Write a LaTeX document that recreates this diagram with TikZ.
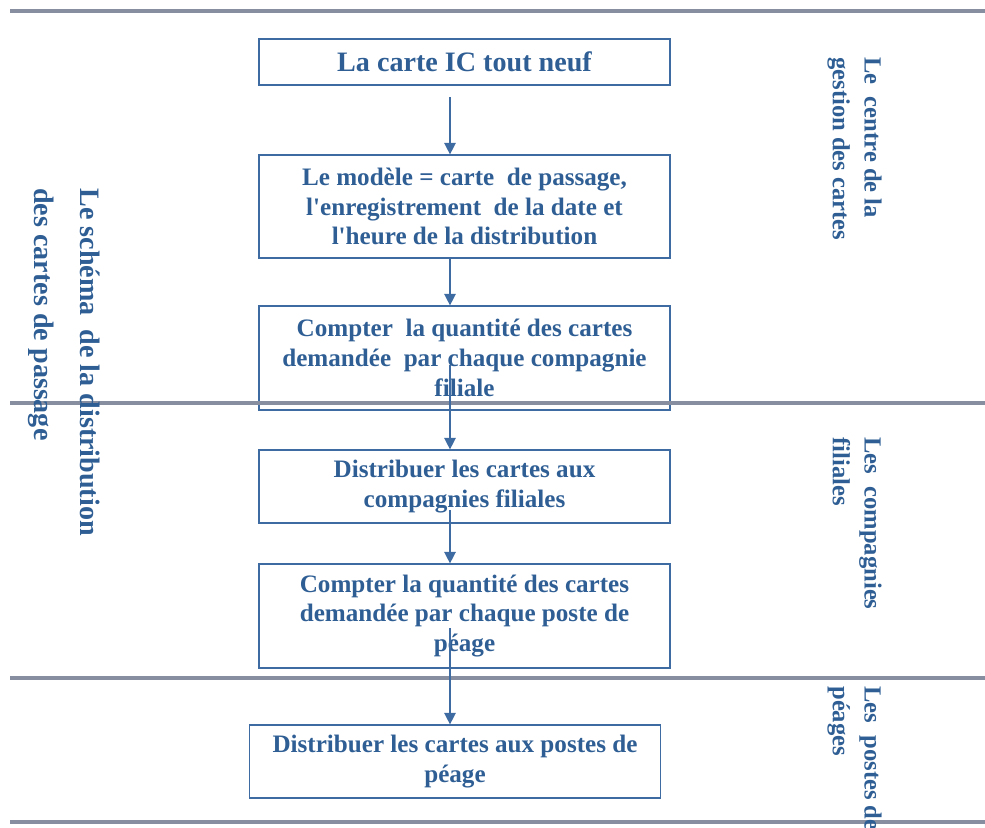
\documentclass[tikz,border=0pt]{standalone}
\usepackage{fontspec}
\setmainfont{Liberation Serif}
\usetikzlibrary{arrows.meta,positioning}
\definecolor{txtblue}{RGB}{46,94,148}
\definecolor{boxblue}{RGB}{62,108,162}
\definecolor{sepgrey}{RGB}{135,142,160}

\tikzset{
  stepbox/.style={draw=boxblue, line width=0.7pt, text=txtblue, align=center,
    font=\fontsize{14.3}{17}\selectfont\bfseries, minimum width=8.22cm, inner sep=0pt},
  sepline/.style={draw=sepgrey, line width=2.1pt},
  flow/.style={draw=boxblue, line width=0.8pt, -{Triangle[length=6.5pt,width=6.5pt]}},
  lane/.style={text=txtblue, font=\fontsize{14}{18}\selectfont\bfseries,
    rotate=-90, align=left, anchor=north west, inner sep=0pt}
}

\begin{document}
\begin{tikzpicture}[x=0.02cm, y=-0.02cm]
  \useasboundingbox (0,0) rectangle (985,828);

  % boxes
  \node[stepbox, minimum height=0.92cm, font=\fontsize{16}{19}\selectfont\bfseries] (ic) at (464.5,62) {La carte IC tout neuf};
  \node[stepbox, minimum height=2.06cm] (modele) at (464.5,206.5) {Le mod\`ele = carte~ de passage,\\l\textquotesingle enregistrement~ de la date et\\l\textquotesingle heure de la distribution};
  \node[stepbox, minimum height=2.08cm] (cnt1) at (464.5,358) {Compter~ la quantit\'e des cartes\\demand\'ee~ par chaque compagnie\\filiale};
  \node[stepbox, minimum height=1.46cm] (dist1) at (464.5,486.5) {Distribuer les cartes aux\\compagnies filiales};
  \node[stepbox, minimum height=2.08cm] (cnt2) at (464.5,616) {Compter la quantit\'e des cartes\\demand\'ee par chaque poste de\\p\'eage};
  \node[stepbox, minimum height=1.46cm] (dist2) at (455,761.5) {Distribuer les cartes aux postes de\\p\'eage};

  % lanes
  \draw[sepline] (10,11) -- (985,11);
  \draw[sepline] (10,403) -- (985,403);
  \draw[sepline] (10,678) -- (985,678);
  \draw[sepline] (10,822) -- (985,822);

  \node[lane] (centre) at (882,57) {Le~~centre de la\\gestion des cartes};
  \node[lane] (filiales) at (882,437) {Les~~compagnies\\filiales};
  \node[lane] (peages) at (882,686) {Les~~postes de\\p\'eages};
  \node[lane, font=\fontsize{16}{26}\selectfont\bfseries] (schema) at (100,188) {Le sch\'ema~ de la distribution\\des cartes de passage};

  % arrows
  \coordinate (s1) at (450,97);
  \coordinate (s2) at (450,258);
  \coordinate (s3) at (450,365);
  \coordinate (s4) at (450,510);
  \coordinate (s5) at (450,628);
  \draw[flow] (s1) -- (s1 |- modele.north);
  \draw[flow] (s2) -- (s2 |- cnt1.north);
  \draw[flow] (s3) -- (s3 |- dist1.north);
  \draw[flow] (s4) -- (s4 |- cnt2.north);
  \draw[flow] (s5) -- (s5 |- dist2.north);
\end{tikzpicture}
\end{document}
